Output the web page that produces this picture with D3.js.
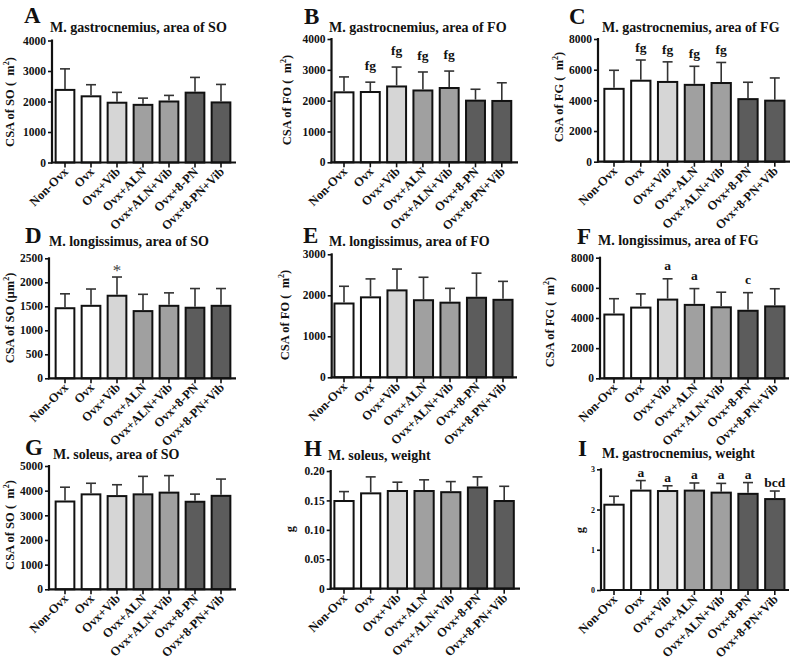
<!DOCTYPE html>
<html><head><meta charset="utf-8">
<script src="https://cdn.jsdelivr.net/npm/d3@7"></script>
<style>
html,body{margin:0;padding:0;background:#fff;}
svg{display:block;font-family:"Liberation Serif","Times New Roman",serif;}
</style></head>
<body><svg id="chart" width="793" height="664"></svg>
<script>
// ---------- data ----------
const groups = ["Non-Ovx","Ovx","Ovx+Vib","Ovx+ALN","Ovx+ALN+Vib","Ovx+8-PN","Ovx+8-PN+Vib"];
const groupFills = ["#ffffff","#ffffff","#d6d6d6","#a0a0a0","#a0a0a0","#5c5c5c","#5c5c5c"];

const meanA = [2380,2170,1960,1890,2000,2290,1970];
const topA  = [3070,2550,2300,2110,2200,2790,2560];
const ticksA = [0,1000,2000,3000,4000];
const annA = ["","","","","","",""];

const meanB = [2270,2280,2460,2330,2410,2000,1990];
const topB  = [2770,2600,3090,2930,2960,2370,2580];
const ticksB = [0,1000,2000,3000,4000];
const annB = ["","fg","fg","fg","fg","",""];

const meanC = [4750,5280,5200,5010,5130,4080,3980];
const topC  = [5960,6630,6510,6220,6470,5180,5460];
const ticksC = [0,2000,4000,6000,8000];
const annC = ["","fg","fg","fg","fg","",""];

const meanD = [1460,1510,1720,1400,1510,1470,1510];
const topD  = [1760,1860,2110,1750,1780,1870,1870];
const ticksD = [0,500,1000,1500,2000,2500];
const annD = ["","","*","","","",""];

const meanE = [1800,1950,2120,1880,1820,1940,1890];
const topE  = [2220,2400,2640,2440,2170,2540,2340];
const ticksE = [0,1000,2000,3000];
const annE = ["","","","","","",""];

const meanF = [4230,4690,5220,4870,4710,4480,4770];
const topF  = [5280,5600,6600,5950,5710,5680,5940];
const ticksF = [0,2000,4000,6000,8000];
const annF = ["","","a","a","","c",""];

const meanG = [3560,3850,3780,3850,3920,3550,3790];
const topG  = [4140,4300,4240,4580,4610,3860,4470];
const ticksG = [0,1000,2000,3000,4000,5000];
const annG = ["","","","","","",""];

const meanH = [0.149,0.162,0.166,0.166,0.164,0.172,0.149];
const topH  = [0.165,0.190,0.181,0.185,0.182,0.190,0.174];
const ticksH = [0,0.05,0.10,0.15,0.20];
const tickLabelsH = ["0","0.05","0.10","0.15","0.20"];
const annH = ["","","","","","",""];

const meanI = [2.12,2.47,2.46,2.47,2.42,2.39,2.26];
const topI  = [2.33,2.72,2.59,2.66,2.65,2.67,2.46];
const ticksI = [0,1,2,3];
const annI = ["","a","a","a","a","a","bcd"];

const letters = ["A","B","C","D","E","F","G","H","I"];
const titles = [
  "M. gastrocnemius, area of SO","M. gastrocnemius, area of FO","M. gastrocnemius, area of FG",
  "M. longissimus, area of SO","M. longissimus, area of FO","M. longissimus, area of FG",
  "M. soleus, area of SO","M. soleus, weight","M. gastrocnemius, weight"];
const yLabels = [
  ["CSA of SO (\u2002m","2",")"],["CSA of FO (\u2002m","2",")"],["CSA of FG (\u2002m","2",")"],
  ["CSA of SO (\u00b5m","2",")"],["CSA of FO (\u2002m","2",")"],["CSA of FG (\u2002m","2",")"],
  ["CSA of SO (\u2002m","2",")"],["g","",""],["g","",""]];

// ---------- layout (positions only) ----------
const layout = [
  {ax:52,  c0:65,  step:26,   yTop:40.5,  y0:162.5, xEnd:236, lx:24,  ly:23,  tx:50,  ty:32,  ylx:14,  yly:102, annOff:9,  tickFs:11.5},
  {ax:331.5,c0:344,step:26.3, yTop:39,    y0:162.3, xEnd:518, lx:304, ly:24,  tx:329, ty:32,  ylx:291, yly:100, annOff:12, tickFs:11.5},
  {ax:598, c0:614, step:26.8, yTop:39,    y0:161.7, xEnd:790, lx:569, ly:24,  tx:602, ty:32,  ylx:563, yly:97,  annOff:8,  tickFs:11.5},
  {ax:49,  c0:65,  step:26,   yTop:258.3, y0:378.3, xEnd:236, lx:25,  ly:243, tx:49,  ty:246, ylx:14,  yly:318, annOff:1,  tickFs:11.5},
  {ax:331.7,c0:344,step:26.5, yTop:254.3, y0:377.3, xEnd:517, lx:303, ly:243, tx:329, ty:246, ylx:289, yly:315, annOff:8,  tickFs:11.5},
  {ax:600, c0:614, step:26.8, yTop:257.7, y0:378.3, xEnd:789, lx:577, ly:244, tx:598, ty:245, ylx:554, yly:322, annOff:9,  tickFs:11.5},
  {ax:49,  c0:65,  step:26,   yTop:466,   y0:589.3, xEnd:236, lx:25,  ly:455, tx:53,  ty:459, ylx:14,  yly:525, annOff:8,  tickFs:11.5},
  {ax:330.7,c0:344,step:26.7, yTop:471,   y0:588.7, xEnd:520, lx:304, ly:456, tx:328, ty:460, ylx:294, yly:529, annOff:8,  tickFs:11.5},
  {ax:601, c0:614, step:26.8, yTop:469.3, y0:590,   xEnd:789, lx:578, ly:456, tx:602, ty:458, ylx:584, yly:530, annOff:4,  tickFs:8}
];

const panelData = [
  {mean:meanA, top:topA, ticks:ticksA, ann:annA},
  {mean:meanB, top:topB, ticks:ticksB, ann:annB},
  {mean:meanC, top:topC, ticks:ticksC, ann:annC},
  {mean:meanD, top:topD, ticks:ticksD, ann:annD},
  {mean:meanE, top:topE, ticks:ticksE, ann:annE},
  {mean:meanF, top:topF, ticks:ticksF, ann:annF},
  {mean:meanG, top:topG, ticks:ticksG, ann:annG},
  {mean:meanH, top:topH, ticks:ticksH, ann:annH, tickLabels:tickLabelsH},
  {mean:meanI, top:topI, ticks:ticksI, ann:annI}
];

const svg = d3.select("#chart");

panelData.forEach((pd, i) => {
  const L = layout[i];
  const g = svg.append("g");
  const yMax = pd.ticks[pd.ticks.length - 1];
  const y = d3.scaleLinear().domain([0, yMax]).range([L.y0, L.yTop]);
  const x = d3.scaleBand().domain(groups)
    .range([L.c0 - L.step/2, L.c0 + L.step*6.5]).paddingInner(0.28).paddingOuter(0.14);

  // bars
  g.selectAll("rect.bar").data(groups).join("rect")
    .attr("x", d => x(d)).attr("width", x.bandwidth())
    .attr("y", (d,j) => y(pd.mean[j])).attr("height", (d,j) => L.y0 - y(pd.mean[j]))
    .attr("fill", (d,j) => groupFills[j]).attr("stroke", "#111").attr("stroke-width", 2);

  // error bars
  const cx = d => x(d) + x.bandwidth()/2;
  g.selectAll("line.err").data(groups).join("line")
    .attr("x1", cx).attr("x2", cx)
    .attr("y1", (d,j) => y(pd.mean[j]) - 1).attr("y2", (d,j) => y(pd.top[j]))
    .attr("stroke", "#333").attr("stroke-width", 1.6);
  g.selectAll("line.cap").data(groups).join("line")
    .attr("x1", d => cx(d) - 5).attr("x2", d => cx(d) + 5)
    .attr("y1", (d,j) => y(pd.top[j])).attr("y2", (d,j) => y(pd.top[j]))
    .attr("stroke", "#333").attr("stroke-width", 1.6);

  // annotations
  g.selectAll("text.ann").data(groups).join("text")
    .attr("x", cx).attr("y", (d,j) => y(pd.top[j]) - L.annOff)
    .attr("text-anchor", "middle")
    .attr("font-size", (d,j) => pd.ann[j] === "*" ? 17 : 13.5)
    .attr("font-weight", (d,j) => pd.ann[j] === "*" ? "normal" : "bold")
    .attr("fill", (d,j) => pd.ann[j] === "*" ? "#444" : "#111")
    .text((d,j) => pd.ann[j]);

  // y axis
  const yAxis = d3.axisLeft(y).tickValues(pd.ticks).tickSize(4).tickPadding(2)
    .tickFormat((v,k) => pd.tickLabels ? pd.tickLabels[k] : d3.format("d")(v));
  const ya = g.append("g").attr("transform", `translate(${L.ax},0)`).call(yAxis);
  ya.select(".domain").remove();
  ya.selectAll(".tick line").attr("stroke", "#111").attr("stroke-width", 1.6);
  ya.selectAll(".tick text").attr("font-family", "Liberation Serif, serif")
    .attr("font-size", L.tickFs).attr("font-weight", "bold").attr("fill", "#111");
  g.append("line").attr("x1", L.ax).attr("x2", L.ax).attr("y1", L.yTop - 1).attr("y2", L.y0 + 1)
    .attr("stroke", "#111").attr("stroke-width", 2.2);

  // x axis
  const xAxis = d3.axisBottom(x).tickSize(5).tickFormat("");
  const xa = g.append("g").attr("transform", `translate(0,${L.y0})`).call(xAxis);
  xa.select(".domain").remove();
  xa.selectAll(".tick line").attr("stroke", "#111").attr("stroke-width", 1.6);
  g.append("line").attr("x1", L.ax - 1).attr("x2", L.xEnd).attr("y1", L.y0).attr("y2", L.y0)
    .attr("stroke", "#111").attr("stroke-width", 2.2);

  // x labels rotated
  g.selectAll("text.xl").data(groups).join("text")
    .attr("transform", d => `translate(${cx(d) + 4},${L.y0 + 10}) rotate(-45)`)
    .attr("text-anchor", "end").attr("font-size", 12.5).attr("font-weight", "bold").attr("fill", "#111")
    .text(d => d);

  // letter
  g.append("text").attr("x", L.lx).attr("y", L.ly).attr("font-size", 23).attr("font-weight", "bold")
    .attr("fill", "#111").text(letters[i]);
  // title
  g.append("text").attr("x", L.tx).attr("y", L.ty).attr("font-size", 14).attr("font-weight", "bold")
    .attr("fill", "#111").text(titles[i]);

  // y label
  const yl = g.append("text").attr("transform", `translate(${L.ylx},${L.yly}) rotate(-90)`)
    .attr("text-anchor", "middle").attr("font-size", 12.5).attr("font-weight", "bold").attr("fill", "#111");
  const parts = yLabels[i];
  yl.append("tspan").text(parts[0]);
  if (parts[1]) {
    yl.append("tspan").attr("dy", -5).attr("font-size", 8).text(parts[1]);
    yl.append("tspan").attr("dy", 5).text(parts[2]);
  }
});
</script></body></html>
